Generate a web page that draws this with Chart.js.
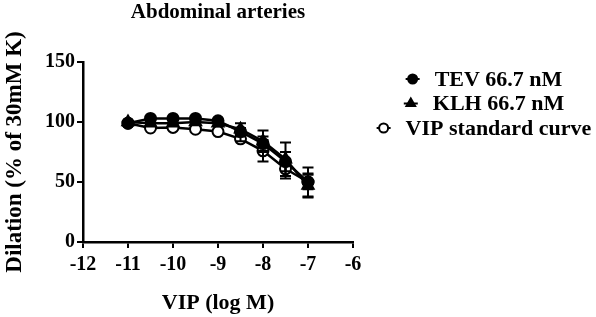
<!DOCTYPE html>
<html>
<head>
<meta charset="utf-8">
<script src="https://cdn.jsdelivr.net/npm/chart.js@4.4.1/dist/chart.umd.min.js"></script>
<style>
  html, body { margin: 0; padding: 0; background: #fff; }
  #wrap { width: 596px; height: 317px; }
</style>
</head>
<body>
<div id="wrap"><canvas id="c" width="596" height="317"></canvas></div>
<script>
const titleText = "Abdominal arteries";
const xTitle = "VIP (log M)";
const yTitle = "Dilation (% of 30mM K)";
const logVIP = [-11, -10.5, -10, -9.5, -9, -8.5, -8, -7.5, -7];
const seriesLabels = ["TEV 66.7 nM", "KLH 66.7 nM", "VIP standard curve"];
const tevValues = [99, 103, 103, 103, 101, 92, 82, 67, 50];
const tevErrors = [1, 1, 1, 1, 1, 3, 6, 8, 12];
const klhValues = [100, 99, 99, 100, 99, 94, 84, 69, 47];
const klhErrors = [1, 1, 1, 1, 1, 5, 9, 14, 10];
const vipValues = [99, 95, 95.5, 94, 92, 86, 76, 61, 50];
const vipErrors = [1, 1, 1, 1, 1, 2, 9, 8, 6];
const xTicks = [-12, -11, -10, -9, -8, -7, -6];
const yTicks = [0, 50, 100, 150];

const FONT = "'Liberation Serif', 'DejaVu Serif', serif";

function pts(vals) { return logVIP.map((x, i) => ({ x: x, y: vals[i] })); }

const errorSets = [tevErrors, klhErrors, vipErrors];

const errorBarPlugin = {
  id: 'errorBars',
  afterDatasetsDraw(chart) {
    const ctx = chart.ctx;
    const xs = chart.scales.x, ys = chart.scales.y;
    ctx.save();
    ctx.strokeStyle = '#000';
    ctx.lineWidth = 2;
    chart.data.datasets.forEach((ds, di) => {
      const errs = errorSets[di];
      ds.data.forEach((p, i) => {
        const e = errs[i];
        if (!e || e < 2) return;
        const px = xs.getPixelForValue(p.x);
        const top = ys.getPixelForValue(p.y + e);
        const bot = ys.getPixelForValue(p.y - e);
        ctx.beginPath();
        ctx.moveTo(px, top); ctx.lineTo(px, bot);
        ctx.moveTo(px - 5.5, top); ctx.lineTo(px + 5.5, top);
        ctx.moveTo(px - 5.5, bot); ctx.lineTo(px + 5.5, bot);
        ctx.stroke();
      });
    });
    ctx.restore();
  }
};

const legendPlugin = {
  id: 'customLegend',
  afterDraw(chart) {
    const ctx = chart.ctx;
    ctx.save();
    ctx.font = "bold 22px " + FONT;
    ctx.textBaseline = 'middle';
    ctx.fillStyle = '#000';
    const cx = 484;
    const y0 = 79, dy = 24.5;
    chart.data.datasets.forEach((ds, i) => {
      const y = y0 + i * dy;
      const tw = ctx.measureText(ds.label).width;
      const total = 14 + 15 + tw;
      const sx = cx - total / 2;
      ctx.strokeStyle = '#000';
      ctx.lineWidth = 2;
      ctx.beginPath();
      ctx.moveTo(sx, y); ctx.lineTo(sx + 14, y);
      ctx.stroke();
      ctx.fillStyle = ds.pointBackgroundColor;
      ctx.strokeStyle = '#000';
      Chart.helpers.drawPoint(ctx, {
        pointStyle: ds.pointStyle,
        radius: ds.pointStyle === 'triangle' ? 5 : 4.5,
        rotation: 0,
        borderWidth: 2
      }, sx + 7, y);
      ctx.fillStyle = '#000';
      ctx.textAlign = 'left';
      ctx.fillText(ds.label, sx + 29, y + 1);
    });
    ctx.restore();
  }
};

const common = {
  borderColor: '#000',
  borderWidth: 2.5,
  pointBorderColor: '#000',
  pointBorderWidth: 2,
  tension: 0,
  fill: false
};

new Chart(document.getElementById('c'), {
  type: 'line',
  data: {
    datasets: [
      Object.assign({}, common, { label: seriesLabels[0], data: pts(tevValues), pointStyle: 'circle', pointRadius: 5.5, pointBackgroundColor: '#000' }),
      Object.assign({}, common, { label: seriesLabels[1], data: pts(klhValues), pointStyle: 'triangle', pointRadius: 6.5, pointBackgroundColor: '#000' }),
      Object.assign({}, common, { label: seriesLabels[2], data: pts(vipValues), pointStyle: 'circle', pointRadius: 5.5, pointBackgroundColor: '#fff' })
    ]
  },
  options: {
    responsive: false,
    animation: false,
    layout: { padding: { top: 0, right: 243, bottom: 0, left: 0 } },
    plugins: {
      legend: { display: false },
      tooltip: { enabled: false },
      title: {
        display: true,
        text: titleText,
        fullSize: false,
        color: '#000',
        font: { family: FONT, size: 21, weight: 'bold' },
        padding: { top: 0, bottom: 36.8 }
      }
    },
    scales: {
      x: {
        type: 'linear',
        min: -12, max: -6,
        afterBuildTicks(scale) { scale.ticks = xTicks.map(v => ({ value: v })); },
        afterFit(scale) { scale.height = 75; },
        grid: { display: true, drawOnChartArea: false, drawTicks: true, tickLength: 6, color: '#000', lineWidth: 2 },
        border: { display: true, color: '#000', width: 2.5 },
        ticks: { color: '#000', padding: 5, font: { family: FONT, size: 20, weight: 'bold' } },
        title: { display: true, text: xTitle, color: '#000', font: { family: FONT, size: 22, weight: 'bold' }, padding: { top: 0, bottom: 0 } }
      },
      y: {
        type: 'linear',
        min: 0, max: 150,
        afterBuildTicks(scale) { scale.ticks = yTicks.map(v => ({ value: v })); },
        afterFit(scale) { scale.width = 83; },
        grid: { display: true, drawOnChartArea: false, drawTicks: true, tickLength: 6, color: '#000', lineWidth: 2 },
        border: { display: true, color: '#000', width: 2.5 },
        ticks: { color: '#000', padding: 2, font: { family: FONT, size: 20, weight: 'bold' } },
        title: { display: true, text: yTitle, color: '#000', font: { family: FONT, size: 23, weight: 'bold' }, padding: { top: 1, bottom: 0 } }
      }
    }
  },
  plugins: [errorBarPlugin, legendPlugin]
});
</script>
</body>
</html>
